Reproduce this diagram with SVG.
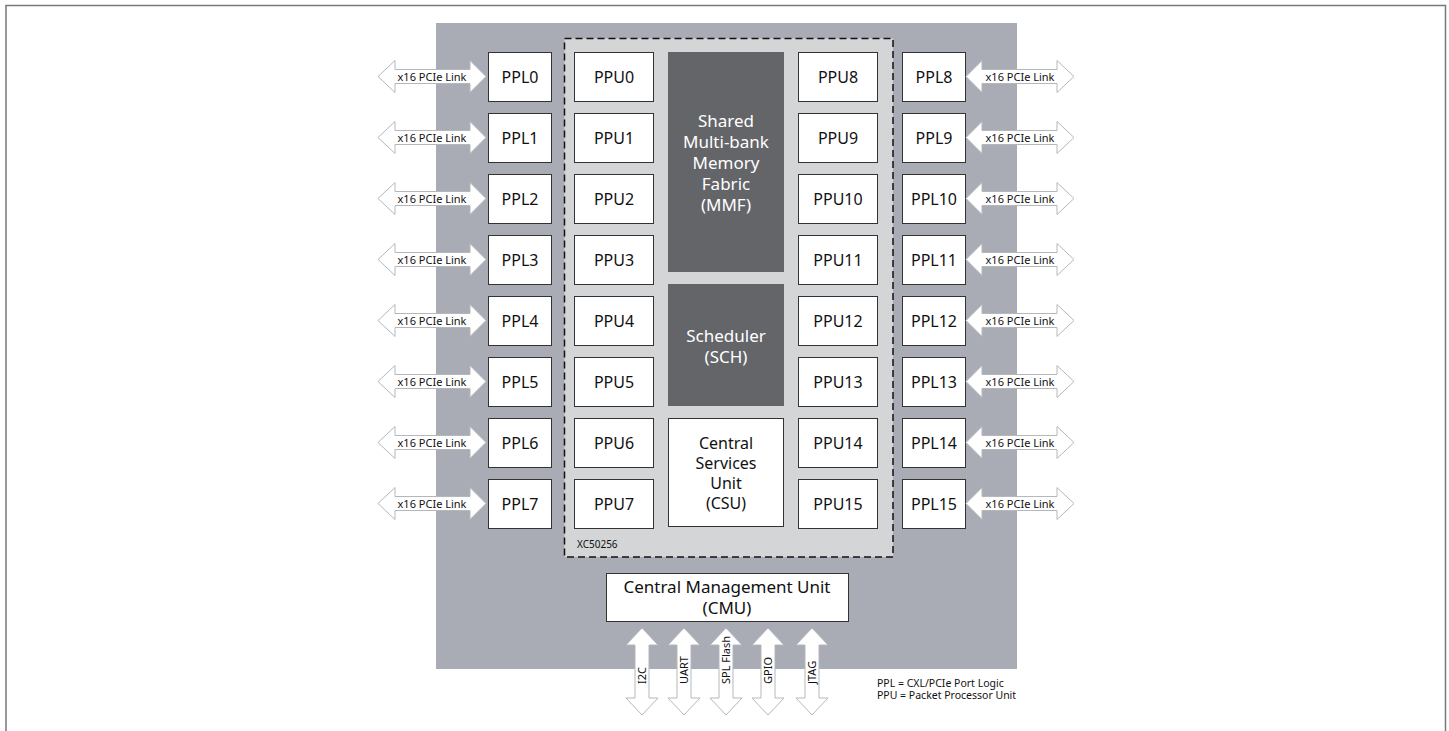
<svg xmlns="http://www.w3.org/2000/svg" width="1449" height="731" viewBox="0 0 1449 731">
<defs>
<style>
text{font-family:"Noto Sans","DejaVu Sans",sans-serif;fill:#111;}
.box{fill:#fff;stroke:#333;stroke-width:1;}
.dark{fill:#636569;}
.lbl{font-size:16px;text-anchor:middle;dominant-baseline:central;}
.wl{font-size:17px;text-anchor:middle;dominant-baseline:central;fill:#fff;}
.bl{font-size:17px;text-anchor:middle;dominant-baseline:central;}
.cl{font-size:16px;text-anchor:middle;dominant-baseline:central;}
.arr{fill:#fff;stroke:#b4b7bc;stroke-width:1;}
.al{font-size:11px;text-anchor:middle;dominant-baseline:central;}
.vl{font-size:11px;}
.sm{font-size:10px;}
.lg{font-size:10.5px;}
</style>
</defs>
<path d="M6,731 V5.5 H1445.5 V731" fill="none" stroke="#76797e" stroke-width="1.5"/>
<rect id="chip" x="436" y="23" width="581" height="646" fill="#a9acb4"/>
<rect id="xc50256" x="564.5" y="38.5" width="328.5" height="518.5" fill="#d4d5d7" stroke="#111" stroke-width="1.5" stroke-dasharray="7,4"/>
<text class="sm" x="577" y="548">XC50256</text>

<g id="mmf"><rect class="dark" x="668" y="52" width="116" height="220"/>
<text class="wl" x="726" y="120">Shared</text><text class="wl" x="726" y="141">Multi-bank</text><text class="wl" x="726" y="162">Memory</text><text class="wl" x="726" y="183">Fabric</text><text class="wl" x="726" y="204">(MMF)</text></g>
<g id="sch"><rect class="dark" x="668" y="284" width="116" height="122"/>
<text class="wl" x="726" y="335">Scheduler</text><text class="wl" x="726" y="356">(SCH)</text></g>
<g id="csu"><rect class="box" x="668.5" y="418.5" width="115" height="108"/>
<text class="cl" x="726" y="443">Central</text><text class="cl" x="726" y="463">Services</text><text class="cl" x="726" y="483">Unit</text><text class="cl" x="726" y="503">(CSU)</text></g>

<g id="ppu0"><rect class="box" x="574.5" y="52.5" width="79" height="49"/><text class="lbl" x="614" y="77">PPU0</text></g>
<g id="ppu1"><rect class="box" x="574.5" y="113.5" width="79" height="49"/><text class="lbl" x="614" y="138">PPU1</text></g>
<g id="ppu2"><rect class="box" x="574.5" y="174.5" width="79" height="49"/><text class="lbl" x="614" y="199">PPU2</text></g>
<g id="ppu3"><rect class="box" x="574.5" y="235.5" width="79" height="49"/><text class="lbl" x="614" y="260">PPU3</text></g>
<g id="ppu4"><rect class="box" x="574.5" y="296.5" width="79" height="49"/><text class="lbl" x="614" y="321">PPU4</text></g>
<g id="ppu5"><rect class="box" x="574.5" y="357.5" width="79" height="49"/><text class="lbl" x="614" y="382">PPU5</text></g>
<g id="ppu6"><rect class="box" x="574.5" y="418.5" width="79" height="49"/><text class="lbl" x="614" y="443">PPU6</text></g>
<g id="ppu7"><rect class="box" x="574.5" y="479.5" width="79" height="49"/><text class="lbl" x="614" y="504">PPU7</text></g>

<g id="ppu8"><rect class="box" x="798.5" y="52.5" width="79" height="49"/><text class="lbl" x="838" y="77">PPU8</text></g>
<g id="ppu9"><rect class="box" x="798.5" y="113.5" width="79" height="49"/><text class="lbl" x="838" y="138">PPU9</text></g>
<g id="ppu10"><rect class="box" x="798.5" y="174.5" width="79" height="49"/><text class="lbl" x="838" y="199">PPU10</text></g>
<g id="ppu11"><rect class="box" x="798.5" y="235.5" width="79" height="49"/><text class="lbl" x="838" y="260">PPU11</text></g>
<g id="ppu12"><rect class="box" x="798.5" y="296.5" width="79" height="49"/><text class="lbl" x="838" y="321">PPU12</text></g>
<g id="ppu13"><rect class="box" x="798.5" y="357.5" width="79" height="49"/><text class="lbl" x="838" y="382">PPU13</text></g>
<g id="ppu14"><rect class="box" x="798.5" y="418.5" width="79" height="49"/><text class="lbl" x="838" y="443">PPU14</text></g>
<g id="ppu15"><rect class="box" x="798.5" y="479.5" width="79" height="49"/><text class="lbl" x="838" y="504">PPU15</text></g>

<g id="ppl0"><rect class="box" x="488.5" y="52.5" width="63" height="49"/><text class="lbl" x="520" y="77">PPL0</text></g>
<g id="ppl1"><rect class="box" x="488.5" y="113.5" width="63" height="49"/><text class="lbl" x="520" y="138">PPL1</text></g>
<g id="ppl2"><rect class="box" x="488.5" y="174.5" width="63" height="49"/><text class="lbl" x="520" y="199">PPL2</text></g>
<g id="ppl3"><rect class="box" x="488.5" y="235.5" width="63" height="49"/><text class="lbl" x="520" y="260">PPL3</text></g>
<g id="ppl4"><rect class="box" x="488.5" y="296.5" width="63" height="49"/><text class="lbl" x="520" y="321">PPL4</text></g>
<g id="ppl5"><rect class="box" x="488.5" y="357.5" width="63" height="49"/><text class="lbl" x="520" y="382">PPL5</text></g>
<g id="ppl6"><rect class="box" x="488.5" y="418.5" width="63" height="49"/><text class="lbl" x="520" y="443">PPL6</text></g>
<g id="ppl7"><rect class="box" x="488.5" y="479.5" width="63" height="49"/><text class="lbl" x="520" y="504">PPL7</text></g>

<g id="ppl8"><rect class="box" x="902.5" y="52.5" width="63" height="49"/><text class="lbl" x="934" y="77">PPL8</text></g>
<g id="ppl9"><rect class="box" x="902.5" y="113.5" width="63" height="49"/><text class="lbl" x="934" y="138">PPL9</text></g>
<g id="ppl10"><rect class="box" x="902.5" y="174.5" width="63" height="49"/><text class="lbl" x="934" y="199">PPL10</text></g>
<g id="ppl11"><rect class="box" x="902.5" y="235.5" width="63" height="49"/><text class="lbl" x="934" y="260">PPL11</text></g>
<g id="ppl12"><rect class="box" x="902.5" y="296.5" width="63" height="49"/><text class="lbl" x="934" y="321">PPL12</text></g>
<g id="ppl13"><rect class="box" x="902.5" y="357.5" width="63" height="49"/><text class="lbl" x="934" y="382">PPL13</text></g>
<g id="ppl14"><rect class="box" x="902.5" y="418.5" width="63" height="49"/><text class="lbl" x="934" y="443">PPL14</text></g>
<g id="ppl15"><rect class="box" x="902.5" y="479.5" width="63" height="49"/><text class="lbl" x="934" y="504">PPL15</text></g>

<g id="cmu"><rect class="box" x="606.5" y="573.5" width="242" height="48"/>
<text class="bl" x="727" y="586.5">Central Management Unit</text><text class="bl" x="727" y="607.5">(CMU)</text></g>

<g id="connectors">
<g id="left-links">
<path class="arr" d="M378,76.5 L395,60.5 L395,69.5 L470,69.5 L470,60.5 L486,76.5 L470,92.5 L470,83.5 L395,83.5 L395,92.5 Z"/>
<path class="arr" d="M378,76.5 L395,60.5 L395,69.5 L470,69.5 L470,60.5 L486,76.5 L470,92.5 L470,83.5 L395,83.5 L395,92.5 Z" transform="translate(0,61)"/>
<path class="arr" d="M378,76.5 L395,60.5 L395,69.5 L470,69.5 L470,60.5 L486,76.5 L470,92.5 L470,83.5 L395,83.5 L395,92.5 Z" transform="translate(0,122)"/>
<path class="arr" d="M378,76.5 L395,60.5 L395,69.5 L470,69.5 L470,60.5 L486,76.5 L470,92.5 L470,83.5 L395,83.5 L395,92.5 Z" transform="translate(0,183)"/>
<path class="arr" d="M378,76.5 L395,60.5 L395,69.5 L470,69.5 L470,60.5 L486,76.5 L470,92.5 L470,83.5 L395,83.5 L395,92.5 Z" transform="translate(0,244)"/>
<path class="arr" d="M378,76.5 L395,60.5 L395,69.5 L470,69.5 L470,60.5 L486,76.5 L470,92.5 L470,83.5 L395,83.5 L395,92.5 Z" transform="translate(0,305)"/>
<path class="arr" d="M378,76.5 L395,60.5 L395,69.5 L470,69.5 L470,60.5 L486,76.5 L470,92.5 L470,83.5 L395,83.5 L395,92.5 Z" transform="translate(0,366)"/>
<path class="arr" d="M378,76.5 L395,60.5 L395,69.5 L470,69.5 L470,60.5 L486,76.5 L470,92.5 L470,83.5 L395,83.5 L395,92.5 Z" transform="translate(0,427)"/>
<text class="al" x="432" y="76.5">x16 PCIe Link</text>
<text class="al" x="432" y="137.5">x16 PCIe Link</text>
<text class="al" x="432" y="198.5">x16 PCIe Link</text>
<text class="al" x="432" y="259.5">x16 PCIe Link</text>
<text class="al" x="432" y="320.5">x16 PCIe Link</text>
<text class="al" x="432" y="381.5">x16 PCIe Link</text>
<text class="al" x="432" y="442.5">x16 PCIe Link</text>
<text class="al" x="432" y="503.5">x16 PCIe Link</text>
</g>
<g id="right-links">
<path class="arr" d="M966,76.5 L982,60.5 L982,69.5 L1057,69.5 L1057,60.5 L1074,76.5 L1057,92.5 L1057,83.5 L982,83.5 L982,92.5 Z"/>
<path class="arr" d="M966,76.5 L982,60.5 L982,69.5 L1057,69.5 L1057,60.5 L1074,76.5 L1057,92.5 L1057,83.5 L982,83.5 L982,92.5 Z" transform="translate(0,61)"/>
<path class="arr" d="M966,76.5 L982,60.5 L982,69.5 L1057,69.5 L1057,60.5 L1074,76.5 L1057,92.5 L1057,83.5 L982,83.5 L982,92.5 Z" transform="translate(0,122)"/>
<path class="arr" d="M966,76.5 L982,60.5 L982,69.5 L1057,69.5 L1057,60.5 L1074,76.5 L1057,92.5 L1057,83.5 L982,83.5 L982,92.5 Z" transform="translate(0,183)"/>
<path class="arr" d="M966,76.5 L982,60.5 L982,69.5 L1057,69.5 L1057,60.5 L1074,76.5 L1057,92.5 L1057,83.5 L982,83.5 L982,92.5 Z" transform="translate(0,244)"/>
<path class="arr" d="M966,76.5 L982,60.5 L982,69.5 L1057,69.5 L1057,60.5 L1074,76.5 L1057,92.5 L1057,83.5 L982,83.5 L982,92.5 Z" transform="translate(0,305)"/>
<path class="arr" d="M966,76.5 L982,60.5 L982,69.5 L1057,69.5 L1057,60.5 L1074,76.5 L1057,92.5 L1057,83.5 L982,83.5 L982,92.5 Z" transform="translate(0,366)"/>
<path class="arr" d="M966,76.5 L982,60.5 L982,69.5 L1057,69.5 L1057,60.5 L1074,76.5 L1057,92.5 L1057,83.5 L982,83.5 L982,92.5 Z" transform="translate(0,427)"/>
<text class="al" x="1020" y="76.5">x16 PCIe Link</text>
<text class="al" x="1020" y="137.5">x16 PCIe Link</text>
<text class="al" x="1020" y="198.5">x16 PCIe Link</text>
<text class="al" x="1020" y="259.5">x16 PCIe Link</text>
<text class="al" x="1020" y="320.5">x16 PCIe Link</text>
<text class="al" x="1020" y="381.5">x16 PCIe Link</text>
<text class="al" x="1020" y="442.5">x16 PCIe Link</text>
<text class="al" x="1020" y="503.5">x16 PCIe Link</text>
</g>
<g id="cmu-links">
<path class="arr" d="M0,628 L16,645 L7,645 L7,698 L16,698 L0,715 L-16,698 L-7,698 L-7,645 L-16,645 Z" transform="translate(642,0)"/>
<path class="arr" d="M0,628 L16,645 L7,645 L7,698 L16,698 L0,715 L-16,698 L-7,698 L-7,645 L-16,645 Z" transform="translate(684,0)"/>
<path class="arr" d="M0,628 L16,645 L7,645 L7,698 L16,698 L0,715 L-16,698 L-7,698 L-7,645 L-16,645 Z" transform="translate(726,0)"/>
<path class="arr" d="M0,628 L16,645 L7,645 L7,698 L16,698 L0,715 L-16,698 L-7,698 L-7,645 L-16,645 Z" transform="translate(768,0)"/>
<path class="arr" d="M0,628 L16,645 L7,645 L7,698 L16,698 L0,715 L-16,698 L-7,698 L-7,645 L-16,645 Z" transform="translate(812,0)"/>
<text class="vl" transform="translate(646,684) rotate(-90)">I2C</text>
<text class="vl" transform="translate(688,684) rotate(-90)">UART</text>
<text class="vl" transform="translate(730,684) rotate(-90)">SPL Flash</text>
<text class="vl" transform="translate(772,684) rotate(-90)">GPIO</text>
<text class="vl" transform="translate(816,684) rotate(-90)">JTAG</text>
</g>
</g>

<g id="legend">
<text class="lg" x="877" y="687">PPL = CXL/PCIe Port Logic</text>
<text class="lg" x="877" y="699">PPU = Packet Processor Unit</text>
</g>
</svg>
